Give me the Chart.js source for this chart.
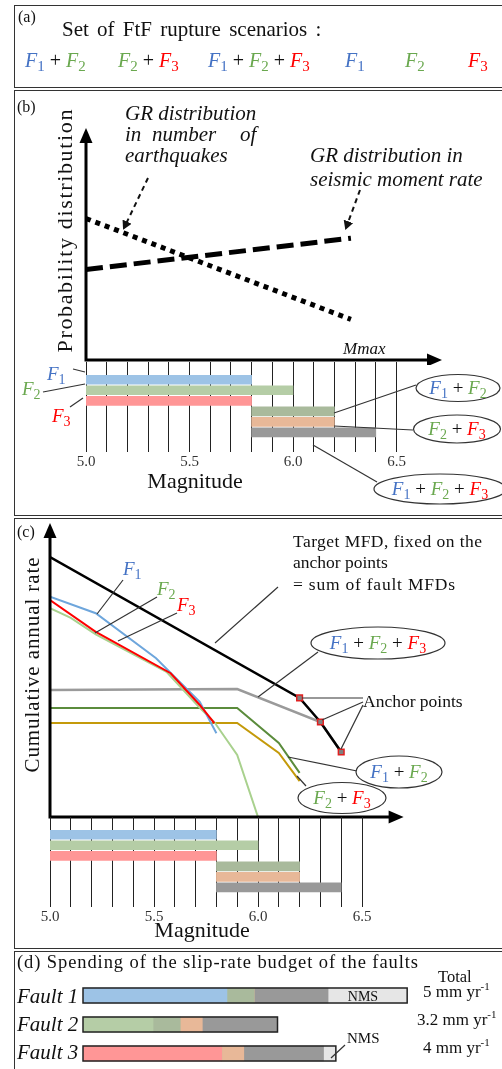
<!DOCTYPE html>
<html>
<head>
<meta charset="utf-8">
<script src="https://cdn.jsdelivr.net/npm/chart.js@4.4.1/dist/chart.umd.min.js"></script>
<style>
  body { margin: 0; width: 502px; height: 1069px; overflow: hidden; background: #fff; position: relative; }
  .panel { position: absolute; left: 14px; width: 520px; border: 1.5px solid #333; box-sizing: border-box; }
  .box { position: absolute; left: 0; width: 502px; }
  #notes { position: absolute; left: 0; top: 0; pointer-events: none; font-family: "Liberation Serif", serif; }
</style>
</head>
<body>
<div class="panel" style="top:5px;height:83px"></div>
<div class="panel" style="top:90px;height:426px"></div>
<div class="panel" style="top:518px;height:431px"></div>
<div class="panel" style="top:951px;height:130px"></div>

<div class="box" style="top:110px;height:255px"><canvas id="grChart"></canvas></div>
<div class="box" style="top:355px;height:145px"><canvas id="barsB"></canvas></div>
<div class="box" style="top:505px;height:320px"><canvas id="mfdChart"></canvas></div>
<div class="box" style="top:810px;height:140px"><canvas id="barsC"></canvas></div>
<div class="box" style="top:978px;height:91px"><canvas id="slipChart"></canvas></div>

<svg id="notes" width="502" height="1069"></svg>

<script>
// rupture scenarios and their magnitude ranges
const scenarios = ['F1', 'F2', 'F3', 'F1+F2', 'F2+F3', 'F1+F2+F3'];
const magStart = [5.0, 5.0, 5.0, 5.8, 5.8, 5.8];
const magEnd = [5.8, 6.0, 5.8, 6.2, 6.2, 6.4];
const magTicks = [5.0, 5.5, 6.0, 6.5];

// (b) GR distributions (arbitrary units)
const grMag = [5.0, 6.28];
const grNumber = [61, 17.5];
const grMoment = [39, 52.5];

// (c) cumulative annual rates (arbitrary units)
const targetMag = [5.0, 6.2, 6.3, 6.4];
const targetRate = [88.4, 40.5, 32.3, 22.1];
const anchorMag = [6.2, 6.3, 6.4];
const anchorRate = [40.5, 32.3, 22.1];
const f1Mag = [5.0, 5.22, 5.51, 5.59, 5.72, 5.8];
const f1Rate = [74.9, 69.3, 54.0, 48.3, 39.2, 28.5];
const f2Mag = [5.0, 5.1, 5.22, 5.56, 5.72, 5.79, 5.9, 6.0];
const f2Rate = [71.0, 67.7, 62.1, 49.4, 37.1, 32.3, 21.1, 0];
const f3Mag = [5.0, 5.22, 5.58, 5.72, 5.79];
const f3Rate = [73.8, 63.0, 48.9, 38.1, 31.9];
const f12Mag = [5.0, 5.9, 6.1, 6.2];
const f12Rate = [37.1, 37.1, 25.2, 15.0];
const f23Mag = [5.0, 5.9, 6.1, 6.2];
const f23Rate = [32.0, 32.0, 21.8, 12.2];
const f123Mag = [5.0, 5.9, 6.3, 6.4];
const f123Rate = [43.2, 43.5, 32.3, 22.1];

// (d) slip-rate budget, mm/yr
const faults = ['Fault 1', 'Fault 2', 'Fault 3'];
const slipAlone = [2.22, 1.08, 2.14];
const slipF1F2 = [0.42, 0.42, 0];
const slipF2F3 = [0, 0.34, 0.34];
const slipAll = [1.14, 1.16, 1.23];
const slipNMS = [1.22, 0, 0.19];
const slipTotals = ['5', '3.2', '4'];

const barColors = ['#9dc3e6', '#b5cda6', '#ff9696', '#a9ba9c', '#e8b898', '#999999'];
const nmsColor = '#e6e6e6';
const serif = 'Liberation Serif';

const pts = (xs, ys) => xs.map((x, i) => ({ x, y: ys[i] }));

const axisArrows = {
  id: 'axisArrows',
  afterDraw(chart) {
    const { ctx, chartArea: a } = chart;
    ctx.save();
    ctx.strokeStyle = '#000';
    ctx.fillStyle = '#000';
    ctx.lineWidth = 3;
    ctx.beginPath();
    ctx.moveTo(a.left, a.bottom); ctx.lineTo(a.left, a.top + 12);
    ctx.moveTo(a.left - 1.5, a.bottom); ctx.lineTo(a.right - 12, a.bottom);
    ctx.stroke();
    ctx.beginPath();
    ctx.moveTo(a.left, a.top); ctx.lineTo(a.left - 6.5, a.top + 15); ctx.lineTo(a.left + 6.5, a.top + 15);
    ctx.fill();
    ctx.beginPath();
    ctx.moveTo(a.right, a.bottom); ctx.lineTo(a.right - 15, a.bottom - 6.5); ctx.lineTo(a.right - 15, a.bottom + 6.5);
    ctx.fill();
    ctx.restore();
  }
};

const base = {
  responsive: true,
  maintainAspectRatio: false,
  animation: false,
  events: [],
  plugins: { legend: { display: false }, tooltip: { enabled: false } }
};

new Chart(document.getElementById('grChart'), {
  type: 'scatter',
  data: {
    datasets: [
      { data: pts(grMag, grNumber), showLine: true, borderColor: '#000', borderWidth: 5, borderDash: [5, 5], pointRadius: 0 },
      { data: pts(grMag, grMoment), showLine: true, borderColor: '#000', borderWidth: 5, borderDash: [17, 7], pointRadius: 0 }
    ]
  },
  options: {
    ...base,
    layout: { padding: { left: 86, right: 60, top: 18, bottom: 5 } },
    scales: {
      x: { type: 'linear', min: 5, max: 6.72, display: false },
      y: { min: 0, max: 100, display: false }
    }
  },
  plugins: [axisArrows]
});

function magBars(id, padding, axisHeight) {
  return new Chart(document.getElementById(id), {
    type: 'bar',
    data: {
      datasets: [{
        data: scenarios.map((s, i) => ({ x: [magStart[i], magEnd[i]], y: i })),
        backgroundColor: barColors,
        barThickness: 9
      }]
    },
    options: {
      ...base,
      indexAxis: 'y',
      layout: { padding },
      scales: {
        x: {
          type: 'linear', min: 5, max: 6.5, z: 1,
          border: { display: false },
          grid: { color: '#222', lineWidth: 1, drawTicks: false },
          ticks: {
            stepSize: 0.1, autoSkip: false, maxRotation: 0, padding: 1, color: '#333',
            font: { family: serif, size: 15 },
            callback: v => magTicks.some(t => Math.abs(t - v) < 1e-6) ? v.toFixed(1) : ''
          },
          afterFit: s => { s.height = axisHeight; }
        },
        y: { type: 'linear', min: -0.62, max: 5.8, reverse: true, display: false }
      }
    }
  });
}
magBars('barsB', { left: 86, right: 105.5, top: 7, bottom: 6 }, 42);
magBars('barsC', { left: 50, right: 140, top: 7, bottom: 3 }, 40);

const line = (xs, ys, color, width) => ({
  data: pts(xs, ys), showLine: true, borderColor: color, borderWidth: width, pointRadius: 0
});

new Chart(document.getElementById('mfdChart'), {
  type: 'scatter',
  data: {
    datasets: [
      {
        data: pts(anchorMag, anchorRate), pointStyle: 'rect', pointRadius: 4,
        backgroundColor: '#808080', borderColor: '#e02020', borderWidth: 1.5
      },
      line(targetMag, targetRate, '#000', 2.5),
      line(f3Mag, f3Rate, '#ff0000', 2),
      line(f1Mag, f1Rate, '#6ea6dc', 2),
      line(f2Mag, f2Rate, '#a9d18e', 2),
      line(f123Mag, f123Rate, '#9a9a9a', 2.5),
      line(f12Mag, f12Rate, '#5b8c3c', 2),
      line(f23Mag, f23Rate, '#c49a0a', 2)
    ]
  },
  options: {
    ...base,
    layout: { padding: { left: 50, right: 98.4, top: 18, bottom: 8 } },
    scales: {
      x: { type: 'linear', min: 5, max: 6.7, display: false },
      y: { min: 0, max: 100, display: false }
    }
  },
  plugins: [axisArrows]
});

const slipTotal = faults.map((f, i) => slipAlone[i] + slipF1F2[i] + slipF2F3[i] + slipAll[i] + slipNMS[i]);
const barOutline = {
  id: 'barOutline',
  afterDatasetsDraw(chart) {
    const { ctx, scales: { x, y } } = chart;
    ctx.save();
    ctx.strokeStyle = '#222';
    ctx.lineWidth = 1.5;
    slipTotal.forEach((t, i) => {
      const x0 = x.getPixelForValue(0), x1 = x.getPixelForValue(t), yc = y.getPixelForValue(i);
      ctx.strokeRect(x0, yc - 7.5, x1 - x0, 15);
    });
    ctx.restore();
  }
};

const stackSet = (data, color) => ({ data, backgroundColor: color, barThickness: 15 });
new Chart(document.getElementById('slipChart'), {
  type: 'bar',
  data: {
    labels: faults,
    datasets: [
      stackSet(slipAlone, [barColors[0], barColors[1], barColors[2]]),
      stackSet(slipF1F2, barColors[3]),
      stackSet(slipF2F3, barColors[4]),
      stackSet(slipAll, barColors[5]),
      stackSet(slipNMS, nmsColor)
    ]
  },
  options: {
    ...base,
    indexAxis: 'y',
    layout: { padding: { left: 83, right: 30, top: 3, bottom: 1 } },
    scales: {
      x: { stacked: true, min: 0, max: 6, display: false },
      y: { stacked: true, display: false }
    }
  },
  plugins: [barOutline]
});

// ---- annotations ----
const fColor = { 1: '#4472c4', 2: '#6aa84f', 3: '#ff0000' };
function fExpr(nums, size) {
  const sh = Math.round(size * 0.2);
  let out = '';
  nums.forEach((n, i) => {
    if (i) out += `<tspan dy="${-sh}" fill="#111" font-style="normal"> + </tspan>`;
    out += `<tspan fill="${fColor[n]}" font-style="italic">F</tspan>` +
      `<tspan fill="${fColor[n]}" font-style="normal" font-size="${Math.round(size * 0.75)}" dy="${sh}">${n}</tspan>`;
  });
  return out;
}
const T = (x, y, s, txt, extra = '') => `<text x="${x}" y="${y}" font-size="${s}" fill="#111" ${extra}>${txt}</text>`;
const F = (x, y, s, nums, extra = '') => `<text x="${x}" y="${y}" font-size="${s}" ${extra}>${fExpr(nums, s)}</text>`;
const L = (x1, y1, x2, y2, w = 1.2) => `<line x1="${x1}" y1="${y1}" x2="${x2}" y2="${y2}" stroke="#333" stroke-width="${w}"/>`;
const E = (cx, cy, rx, ry, nums, s = 19) =>
  `<ellipse cx="${cx}" cy="${cy}" rx="${rx}" ry="${ry}" fill="#fff" stroke="#333" stroke-width="1.2"/>` +
  F(cx, cy + 6, s, nums, 'text-anchor="middle"');

let svg = `<defs><marker id="ah" markerWidth="10" markerHeight="10" refX="7" refY="5" orient="auto" markerUnits="userSpaceOnUse">
<path d="M0,0 L9,5 L0,10 z" fill="#111"/></marker></defs>`;

// (a)
svg += T(18, 22, 16, '(a)');
svg += T(62, 36, 21, 'Set of FtF rupture scenarios :', 'word-spacing="3"');
svg += F(25, 67, 20, [1, 2]) + F(118, 67, 20, [2, 3]) + F(208, 67, 20, [1, 2, 3]);
svg += F(345, 67, 20, [1]) + F(405, 67, 20, [2]) + F(468, 67, 20, [3]);

// (b)
svg += T(17, 112, 16, '(b)');
svg += T(65, 231, 22, 'Probability distribution', 'text-anchor="middle" transform="rotate(-90 65 231)" dy="7" textLength="243"');
svg += T(125, 120, 21, 'GR distribution', 'font-style="italic"');
svg += T(125, 141, 21, 'in', 'font-style="italic"') + T(152, 141, 21, 'number', 'font-style="italic"') + T(240, 141, 21, 'of', 'font-style="italic"');
svg += T(125, 162, 21, 'earthquakes', 'font-style="italic"');
svg += T(310, 162, 21, 'GR distribution in', 'font-style="italic"');
svg += T(310, 186, 21, 'seismic moment rate', 'font-style="italic"');
svg += T(343, 354, 17, 'Mmax', 'font-style="italic"');
svg += `<path d="M148,178 L124,228" stroke="#111" stroke-width="2" stroke-dasharray="5 4" fill="none" marker-end="url(#ah)"/>`;
svg += `<path d="M360,190 L346,228" stroke="#111" stroke-width="2" stroke-dasharray="5 4" fill="none" marker-end="url(#ah)"/>`;
svg += F(47, 380, 19, [1]) + F(22, 395, 19, [2]) + F(52, 422, 19, [3]);
svg += L(73, 369, 85, 372) + L(43, 392, 85, 384) + L(70, 407, 83, 398);
svg += L(334, 413, 416, 385) + L(334, 426, 413, 430) + L(313, 445, 377, 482);
svg += E(458, 388, 42, 13.5, [1, 2]) + E(457, 429, 43.5, 14, [2, 3]) + E(440, 489, 66, 15, [1, 2, 3]);
svg += T(195, 488, 22, 'Magnitude', 'text-anchor="middle"');

// (c)
svg += T(17, 537, 16, '(c)');
svg += T(32, 665, 21, 'Cumulative annual rate', 'text-anchor="middle" transform="rotate(-90 32 665)" dy="7" textLength="215"');
svg += F(123, 575, 19, [1]) + F(157, 595, 19, [2]) + F(177, 611, 19, [3]);
svg += L(123, 580, 97, 614) + L(157, 597, 95, 633) + L(177, 613, 118, 641);
svg += T(293, 547, 17.5, 'Target MFD, fixed on the', 'textLength="189"');
svg += T(293, 568, 17.5, 'anchor points');
svg += T(293, 590, 17.5, '= sum of  fault  MFDs', 'textLength="162"');
svg += L(278, 587, 215, 643);
svg += L(318, 652, 258, 697) + E(378, 643, 67, 16, [1, 2, 3]);
svg += T(363, 707, 17.5, 'Anchor points');
svg += L(363, 698, 302, 698) + L(363, 702, 322, 720) + L(363, 705, 341, 749);
svg += L(357, 771, 288, 757) + E(399, 772, 43, 16, [1, 2]);
svg += L(297, 776, 306, 786) + E(342, 798, 44, 15.5, [2, 3]);
svg += T(202, 937, 22, 'Magnitude', 'text-anchor="middle"');

// (d)
svg += T(17, 968, 18.5, '(d) Spending of the slip-rate budget of the faults', 'textLength="401"');
svg += T(438, 982, 16.5, 'Total');
faults.forEach((f, i) => {
  const yb = 1003 + i * 28;
  svg += T(17, yb, 21, f, 'font-style="italic"');
  svg += T(slipTotals[i].length > 1 ? 417 : 423, yb - 6, 17,
    `${slipTotals[i]} mm yr<tspan font-size="11" dy="-7">-1</tspan>`);
});
svg += T(363, 1001, 14, 'NMS', 'text-anchor="middle"');
svg += T(347, 1043, 15, 'NMS');
svg += L(345, 1045, 331, 1058);

document.getElementById('notes').innerHTML = svg;
</script>
</body>
</html>
